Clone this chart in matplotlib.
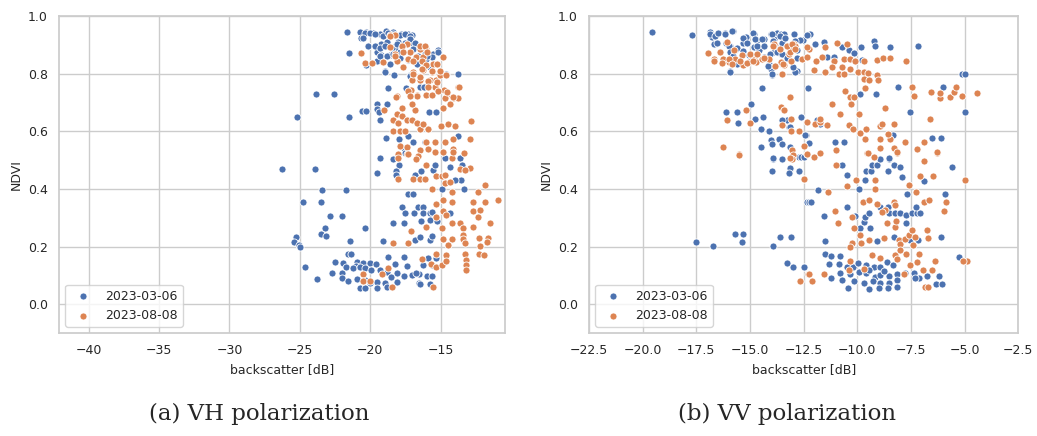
import numpy as np
import matplotlib
matplotlib.use("Agg")
import matplotlib.pyplot as plt
import seaborn as sns

# date labels of the two acquisitions
dates = ["2023-03-06", "2023-08-08"]

# VH backscatter [dB] / NDVI, 2023-03-06
vh_mar = np.array([
    (-21.64, 0.945), (-21.55, 0.872), (-20.74, 0.945), (-20.32, 0.945), (-19.80, 0.942), (-19.33, 0.939),
    (-18.90, 0.948), (-18.38, 0.945), (-17.86, 0.939), (-17.32, 0.939), (-17.08, 0.933), (-20.63, 0.924),
    (-20.15, 0.898), (-19.56, 0.898), (-19.21, 0.904), (-18.85, 0.910), (-18.38, 0.892), (-18.03, 0.910),
    (-16.96, 0.904), (-19.56, 0.875), (-19.21, 0.864), (-18.62, 0.864), (-18.26, 0.887), (-17.91, 0.875),
    (-17.08, 0.881), (-16.49, 0.898), (-16.13, 0.875), (-15.54, 0.869), (-15.19, 0.881), (-15.66, 0.858),
    (-19.56, 0.846), (-18.62, 0.835), (-17.32, 0.849), (-16.73, 0.840), (-16.02, 0.852), (-18.97, 0.808),
    (-18.33, 0.794), (-17.20, 0.794), (-20.32, 0.831), (-14.60, 0.800), (-13.80, 0.800),
    (-20.38, 0.943), (-20.03, 0.943), (-19.67, 0.937), (-19.08, 0.931), (-18.73, 0.943), (-18.37, 0.939),
    (-17.90, 0.934), (-17.54, 0.937), (-17.19, 0.931), (-20.50, 0.925), (-20.15, 0.897), (-19.67, 0.897),
    (-19.32, 0.891), (-18.96, 0.897), (-18.49, 0.891), (-18.13, 0.902), (-17.54, 0.908), (-17.19, 0.920),
    (-16.83, 0.908), (-19.32, 0.862), (-18.84, 0.862), (-18.37, 0.868), (-17.90, 0.856), (-17.31, 0.851),
    (-16.95, 0.885), (-16.60, 0.862), (-16.00, 0.862), (-15.17, 0.874), (-16.71, 0.833), (-15.76, 0.822),
    (-18.96, 0.805), (-17.19, 0.793), (-16.47, 0.753), (-16.12, 0.753),
    (-23.87, 0.729), (-22.56, 0.729), (-25.19, 0.650), (-21.52, 0.650), (-18.73, 0.750), (-17.50, 0.750),
    (-16.20, 0.754), (-19.50, 0.696), (-18.80, 0.696), (-20.60, 0.670), (-20.30, 0.670), (-19.56, 0.676),
    (-19.40, 0.667), (-19.35, 0.640), (-15.85, 0.668), (-15.33, 0.668), (-13.77, 0.585), (-18.90, 0.577),
    (-17.95, 0.575), (-17.30, 0.585), (-17.60, 0.543), (-16.96, 0.563), (-16.10, 0.563),
    (-26.28, 0.468), (-23.90, 0.468), (-19.56, 0.454), (-19.30, 0.506), (-18.40, 0.503), (-18.00, 0.483),
    (-18.15, 0.464), (-18.15, 0.449), (-17.55, 0.524), (-16.84, 0.449), (-16.42, 0.464), (-15.54, 0.466),
    (-15.43, 0.483), (-14.70, 0.506), (-14.36, 0.477), (-13.65, 0.506), (-13.53, 0.483), (-13.58, 0.431),
    (-14.00, 0.431), (-23.40, 0.395), (-21.74, 0.395), (-24.76, 0.355), (-23.50, 0.355), (-22.87, 0.307),
    (-22.04, 0.307), (-23.20, 0.264), (-23.50, 0.243), (-23.15, 0.237), (-20.40, 0.264), (-21.45, 0.221),
    (-25.30, 0.232), (-25.40, 0.217), (-25.07, 0.206), (-25.00, 0.200), (-24.65, 0.130), (-23.80, 0.088),
    (-19.10, 0.221), (-18.40, 0.283), (-17.60, 0.283), (-17.77, 0.339), (-17.55, 0.316), (-16.90, 0.316),
    (-16.60, 0.339), (-16.25, 0.339), (-16.25, 0.316), (-15.78, 0.316), (-15.60, 0.322), (-17.30, 0.382),
    (-17.00, 0.382), (-16.42, 0.289), (-15.78, 0.292), (-15.26, 0.289), (-16.84, 0.223), (-16.50, 0.235),
    (-15.78, 0.223), (-15.66, 0.238), (-14.95, 0.400), (-13.35, 0.400), (-14.36, 0.316),
    (-22.52, 0.148), (-21.93, 0.145), (-21.62, 0.175), (-21.34, 0.175), (-20.98, 0.148), (-21.03, 0.133),
    (-20.50, 0.142), (-20.04, 0.142), (-19.60, 0.140), (-18.78, 0.165), (-18.26, 0.140), (-17.62, 0.165),
    (-17.43, 0.133), (-22.75, 0.110), (-22.04, 0.110), (-21.70, 0.130), (-21.22, 0.125), (-20.74, 0.130),
    (-20.39, 0.125), (-19.92, 0.119), (-19.33, 0.119), (-18.85, 0.113), (-18.14, 0.108), (-17.62, 0.098),
    (-17.08, 0.102), (-16.54, 0.073), (-16.25, 0.136), (-15.66, 0.136), (-16.00, 0.098), (-15.66, 0.098),
    (-16.54, 0.105), (-22.04, 0.090), (-21.57, 0.082), (-20.98, 0.087), (-20.39, 0.084), (-20.04, 0.075),
    (-19.56, 0.079), (-18.97, 0.075), (-18.57, 0.094), (-18.14, 0.079), (-20.74, 0.055), (-20.39, 0.055),
    (-19.56, 0.055), (-18.85, 0.059), (-15.31, 0.162), (-15.90, 0.160), (-16.77, 0.110), (-15.76, 0.072),
    (-16.50, 0.072),
])

# VH backscatter [dB] / NDVI, 2023-08-08
vh_aug = np.array([
    (-20.70, 0.873), (-20.39, 0.838), (-19.85, 0.838), (-18.62, 0.933), (-18.26, 0.933), (-17.43, 0.904),
    (-17.79, 0.892), (-18.62, 0.892), (-17.20, 0.875), (-16.49, 0.887), (-16.02, 0.887), (-16.73, 0.858),
    (-16.25, 0.858), (-16.37, 0.846), (-18.14, 0.846), (-17.67, 0.823), (-16.96, 0.806), (-16.25, 0.812),
    (-15.66, 0.806), (-14.83, 0.858), (-15.54, 0.835), (-17.32, 0.852), (-18.26, 0.869), (-19.09, 0.840),
    (-16.02, 0.829), (-17.08, 0.780), (-16.49, 0.780), (-15.78, 0.777), (-15.31, 0.777), (-15.07, 0.794),
    (-14.60, 0.794), (-17.15, 0.742), (-16.68, 0.725), (-16.06, 0.725), (-15.59, 0.725), (-15.43, 0.754),
    (-14.79, 0.742), (-14.53, 0.731), (-14.13, 0.717), (-13.77, 0.717), (-13.77, 0.754), (-14.67, 0.717),
    (-18.61, 0.931), (-17.78, 0.897), (-18.25, 0.862), (-17.66, 0.874), (-16.47, 0.897), (-16.12, 0.897),
    (-16.00, 0.874), (-16.95, 0.845), (-16.36, 0.816), (-15.64, 0.810), (-15.29, 0.833), (-15.05, 0.810),
    (-16.95, 0.799), (-16.47, 0.788), (-15.88, 0.776), (-15.29, 0.770), (-17.31, 0.741), (-16.71, 0.724),
    (-15.88, 0.753), (-15.17, 0.741), (-14.58, 0.736), (-13.74, 0.753), (-14.10, 0.718), (-18.13, 0.724),
    (-17.19, 0.724),
    (-18.19, 0.721), (-19.02, 0.675), (-17.79, 0.682), (-16.84, 0.675), (-17.08, 0.696), (-14.83, 0.682),
    (-14.36, 0.696), (-18.14, 0.659), (-17.79, 0.655), (-18.38, 0.638), (-18.03, 0.629), (-17.43, 0.638),
    (-17.08, 0.640), (-18.38, 0.603), (-17.91, 0.603), (-17.55, 0.601), (-16.49, 0.609), (-16.68, 0.629),
    (-15.90, 0.609), (-16.25, 0.624), (-15.02, 0.617), (-14.48, 0.624), (-14.00, 0.617), (-12.83, 0.636),
    (-12.94, 0.575), (-14.13, 0.575), (-14.72, 0.563), (-15.43, 0.563), (-16.02, 0.563), (-17.91, 0.548),
    (-17.43, 0.546), (-18.03, 0.523), (-17.43, 0.520), (-16.49, 0.536), (-15.90, 0.540), (-15.43, 0.528),
    (-14.83, 0.528), (-14.17, 0.540), (-13.37, 0.525),
    (-18.07, 0.506), (-17.32, 0.521), (-16.61, 0.514), (-16.77, 0.503), (-16.02, 0.483), (-14.83, 0.529),
    (-14.20, 0.506), (-14.13, 0.529), (-15.31, 0.445), (-14.95, 0.445), (-14.72, 0.449), (-13.65, 0.468),
    (-12.94, 0.472), (-13.30, 0.466), (-18.03, 0.434), (-16.96, 0.434), (-16.49, 0.434), (-16.09, 0.434),
    (-14.72, 0.420), (-14.36, 0.425), (-15.66, 0.400), (-14.24, 0.391), (-15.31, 0.347), (-14.83, 0.362),
    (-14.24, 0.356), (-12.71, 0.356), (-11.88, 0.414), (-11.88, 0.356), (-10.93, 0.362), (-12.35, 0.391),
    (-12.75, 0.325), (-12.23, 0.327), (-15.31, 0.304), (-14.83, 0.325), (-14.60, 0.310), (-14.24, 0.281),
    (-13.65, 0.281), (-13.46, 0.264), (-12.71, 0.269), (-12.35, 0.304), (-11.52, 0.283), (-17.15, 0.255),
    (-17.32, 0.214), (-18.38, 0.214), (-16.02, 0.267), (-14.91, 0.265), (-14.24, 0.225), (-13.46, 0.240),
    (-13.42, 0.225), (-13.30, 0.214), (-14.48, 0.206), (-14.83, 0.225), (-12.28, 0.231), (-11.64, 0.231),
    (-11.71, 0.217), (-12.23, 0.202), (-14.60, 0.171), (-15.31, 0.173), (-16.30, 0.156), (-15.71, 0.139),
    (-15.31, 0.128), (-14.95, 0.136), (-14.65, 0.151), (-13.30, 0.173), (-13.18, 0.154), (-13.23, 0.136),
    (-13.23, 0.119), (-12.28, 0.173), (-11.95, 0.171), (-20.50, 0.105), (-20.50, 0.082), (-20.04, 0.082),
    (-19.16, 0.105), (-18.74, 0.125), (-18.45, 0.061), (-15.54, 0.061),
])

# VV backscatter [dB] / NDVI, 2023-03-06
vv_mar = np.array([
    (-19.56, 0.945), (-17.70, 0.933), (-16.85, 0.945), (-16.53, 0.939), (-16.18, 0.942), (-15.79, 0.948),
    (-16.77, 0.927), (-16.53, 0.906), (-16.14, 0.906), (-15.91, 0.898), (-15.68, 0.881), (-15.60, 0.840),
    (-15.91, 0.809), (-15.32, 0.906), (-15.21, 0.929), (-14.82, 0.939), (-14.67, 0.916), (-14.35, 0.921),
    (-14.82, 0.892), (-14.59, 0.881), (-14.35, 0.858), (-14.04, 0.939), (-13.76, 0.942), (-13.57, 0.939),
    (-13.89, 0.921), (-13.50, 0.906), (-13.89, 0.875), (-13.57, 0.869), (-13.96, 0.794), (-14.04, 0.817),
    (-12.95, 0.939), (-12.80, 0.881), (-12.52, 0.916), (-12.83, 0.809), (-12.25, 0.935), (-14.12, 0.835),
    (-15.05, 0.864), (-12.97, 0.939), (-12.19, 0.939), (-12.34, 0.933), (-13.43, 0.939), (-13.28, 0.898),
    (-13.59, 0.875), (-13.51, 0.835), (-12.89, 0.806), (-12.66, 0.918), (-11.96, 0.904), (-11.41, 0.858),
    (-11.10, 0.858), (-11.57, 0.910), (-10.71, 0.892), (-10.40, 0.881), (-10.17, 0.872), (-9.83, 0.892),
    (-9.78, 0.849), (-9.21, 0.913), (-9.16, 0.896), (-8.49, 0.892), (-7.17, 0.896), (-5.12, 0.800),
    (-5.00, 0.800),
    (-16.86, 0.937), (-16.63, 0.931), (-16.47, 0.943), (-16.16, 0.937), (-15.85, 0.948), (-16.70, 0.902),
    (-16.55, 0.908), (-16.00, 0.897), (-15.93, 0.874), (-15.61, 0.891), (-15.77, 0.862), (-15.31, 0.925),
    (-15.15, 0.908), (-14.84, 0.943), (-14.76, 0.920), (-14.68, 0.897), (-14.45, 0.920), (-14.37, 0.897),
    (-13.98, 0.937), (-13.91, 0.914), (-13.83, 0.897), (-13.60, 0.931), (-13.36, 0.925), (-14.06, 0.868),
    (-13.75, 0.874), (-13.52, 0.868), (-13.28, 0.856), (-13.13, 0.874), (-12.90, 0.914), (-12.82, 0.856),
    (-12.98, 0.822), (-14.14, 0.828), (-13.98, 0.799), (-15.93, 0.805), (-15.61, 0.833), (-14.91, 0.862),
    (-15.31, 0.879),
    (-14.45, 0.751), (-14.95, 0.696), (-16.11, 0.668), (-15.60, 0.669), (-15.57, 0.629), (-14.77, 0.644),
    (-14.38, 0.650), (-14.51, 0.609), (-14.12, 0.603), (-12.64, 0.650), (-13.26, 0.638), (-13.19, 0.615),
    (-14.04, 0.571), (-13.65, 0.575), (-13.96, 0.557), (-13.50, 0.557), (-13.14, 0.546), (-12.41, 0.586),
    (-13.95, 0.505), (-13.50, 0.505), (-14.48, 0.546), (-12.30, 0.751), (-9.86, 0.731), (-9.13, 0.731),
    (-8.11, 0.754), (-6.01, 0.754), (-7.53, 0.667), (-4.97, 0.667), (-12.62, 0.650), (-13.51, 0.640),
    (-13.12, 0.615), (-11.88, 0.638), (-11.72, 0.624), (-12.45, 0.586), (-12.24, 0.561), (-11.02, 0.563),
    (-10.64, 0.563), (-8.35, 0.586), (-6.52, 0.577), (-6.10, 0.577), (-8.93, 0.505), (-8.54, 0.505),
    (-13.12, 0.546),
    (-17.50, 0.215), (-16.72, 0.202), (-15.68, 0.243), (-15.32, 0.243), (-15.37, 0.215), (-13.92, 0.202),
    (-13.61, 0.235), (-13.08, 0.235), (-13.26, 0.145), (-12.98, 0.131), (-12.48, 0.131), (-13.95, 0.506),
    (-13.50, 0.503), (-12.72, 0.512), (-12.64, 0.512), (-12.48, 0.512), (-13.96, 0.464), (-13.19, 0.454),
    (-13.16, 0.469), (-12.72, 0.464), (-12.33, 0.356), (-13.15, 0.472), (-13.20, 0.454), (-12.73, 0.464),
    (-13.51, 0.504), (-10.71, 0.483), (-10.48, 0.449), (-9.94, 0.399), (-9.63, 0.431), (-9.58, 0.464),
    (-9.36, 0.464), (-9.32, 0.483), (-9.08, 0.483), (-8.93, 0.503), (-8.54, 0.506), (-8.31, 0.483),
    (-8.03, 0.477), (-7.92, 0.440), (-8.59, 0.464), (-6.88, 0.428), (-5.59, 0.475), (-7.69, 0.382),
    (-5.90, 0.382), (-11.83, 0.397), (-12.27, 0.354), (-12.16, 0.354), (-11.57, 0.308), (-10.48, 0.339),
    (-10.09, 0.308), (-9.70, 0.287), (-9.63, 0.304), (-9.47, 0.318), (-9.86, 0.264), (-9.39, 0.264),
    (-8.93, 0.339), (-8.59, 0.339), (-8.54, 0.316), (-8.23, 0.316), (-8.00, 0.316), (-7.72, 0.310),
    (-7.45, 0.316), (-7.22, 0.316), (-7.06, 0.316), (-7.25, 0.339), (-7.72, 0.283), (-13.59, 0.232),
    (-13.09, 0.232), (-11.49, 0.221), (-9.08, 0.221), (-8.31, 0.232), (-7.56, 0.223), (-7.19, 0.223),
    (-6.10, 0.235), (-5.25, 0.163),
    (-11.49, 0.175), (-11.21, 0.168), (-10.79, 0.168), (-13.28, 0.145), (-13.00, 0.131), (-12.50, 0.131),
    (-11.34, 0.140), (-10.87, 0.140), (-10.48, 0.128), (-10.20, 0.131), (-9.98, 0.145), (-9.58, 0.136),
    (-9.24, 0.128), (-8.93, 0.128), (-8.62, 0.148), (-8.34, 0.136), (-10.79, 0.110), (-10.36, 0.105),
    (-9.94, 0.113), (-9.58, 0.110), (-9.16, 0.096), (-8.93, 0.102), (-8.54, 0.098), (-8.15, 0.105),
    (-7.76, 0.108), (-7.38, 0.108), (-7.14, 0.092), (-6.75, 0.098), (-6.21, 0.098), (-11.21, 0.090),
    (-10.71, 0.084), (-10.17, 0.082), (-9.70, 0.075), (-9.27, 0.082), (-8.93, 0.075), (-8.54, 0.073),
    (-8.15, 0.084), (-7.30, 0.090), (-6.32, 0.071), (-6.06, 0.071), (-10.43, 0.058), (-9.47, 0.052),
    (-9.01, 0.055), (-8.59, 0.055), (-8.15, 0.059), (-9.47, 0.119), (-8.74, 0.117),
])

# VV backscatter [dB] / NDVI, 2023-08-08
vv_aug = np.array([
    (-16.95, 0.873), (-16.69, 0.852), (-16.38, 0.877), (-16.27, 0.852), (-16.00, 0.840), (-15.68, 0.852),
    (-15.32, 0.829), (-15.05, 0.840), (-14.82, 0.852), (-14.74, 0.840), (-14.43, 0.852), (-14.12, 0.852),
    (-13.89, 0.904), (-13.57, 0.840), (-13.42, 0.829), (-13.50, 0.800), (-13.11, 0.846), (-13.19, 0.869),
    (-13.11, 0.887), (-12.95, 0.904), (-12.56, 0.852), (-12.25, 0.887), (-12.33, 0.858), (-16.07, 0.910),
    (-15.76, 0.881), (-15.37, 0.864), (-14.98, 0.869), (-13.12, 0.875), (-12.89, 0.898), (-12.34, 0.892),
    (-11.91, 0.846), (-11.65, 0.858), (-11.49, 0.892), (-10.95, 0.906), (-10.48, 0.904), (-11.10, 0.846),
    (-10.64, 0.852), (-10.33, 0.852), (-10.09, 0.846), (-9.70, 0.846), (-9.08, 0.849), (-8.82, 0.855),
    (-8.46, 0.855), (-7.72, 0.846), (-12.03, 0.812), (-11.49, 0.806), (-11.18, 0.823), (-10.87, 0.800),
    (-10.64, 0.800), (-10.33, 0.817), (-9.98, 0.806), (-9.70, 0.806), (-9.52, 0.803), (-9.70, 0.783),
    (-9.47, 0.777), (-9.08, 0.794), (-9.05, 0.780), (-10.71, 0.823),
    (-16.94, 0.871), (-16.70, 0.845), (-16.39, 0.877), (-16.00, 0.851), (-16.31, 0.839), (-15.85, 0.833),
    (-15.46, 0.845), (-15.15, 0.839), (-14.84, 0.845), (-14.68, 0.868), (-14.37, 0.856), (-13.91, 0.897),
    (-13.60, 0.885), (-13.28, 0.897), (-13.05, 0.902), (-12.90, 0.885), (-13.44, 0.833), (-13.83, 0.828),
    (-13.52, 0.799),
    (-13.14, 0.721), (-13.57, 0.684), (-13.42, 0.675), (-16.07, 0.640), (-15.18, 0.675), (-15.01, 0.629),
    (-13.11, 0.644), (-12.72, 0.603), (-13.53, 0.621), (-13.11, 0.601), (-12.36, 0.632), (-16.25, 0.546),
    (-15.52, 0.520), (-13.06, 0.536), (-12.98, 0.517), (-12.36, 0.520), (-12.48, 0.551), (-10.56, 0.740),
    (-10.33, 0.719), (-10.14, 0.719), (-10.30, 0.696), (-9.63, 0.751), (-11.18, 0.696), (-10.82, 0.659),
    (-9.94, 0.659), (-13.12, 0.721), (-13.43, 0.675), (-8.73, 0.682), (-7.45, 0.754), (-7.38, 0.723),
    (-6.55, 0.736), (-6.16, 0.716), (-6.13, 0.733), (-5.70, 0.719), (-5.48, 0.736), (-5.40, 0.754),
    (-5.12, 0.723), (-4.43, 0.733), (-6.60, 0.644), (-11.96, 0.627), (-11.75, 0.632), (-11.41, 0.621),
    (-11.72, 0.642), (-10.40, 0.621), (-10.20, 0.609), (-9.86, 0.594), (-9.58, 0.609), (-8.96, 0.617),
    (-8.85, 0.627), (-8.31, 0.624), (-9.63, 0.575), (-8.93, 0.575), (-8.46, 0.575), (-8.59, 0.592),
    (-7.76, 0.563), (-7.22, 0.540), (-6.91, 0.563), (-6.29, 0.525), (-10.98, 0.534), (-9.55, 0.525),
    (-8.93, 0.543), (-8.31, 0.543), (-8.15, 0.525),
    (-15.49, 0.519), (-13.03, 0.503), (-12.48, 0.434), (-12.30, 0.105), (-12.67, 0.082), (-12.36, 0.521),
    (-13.12, 0.506), (-12.34, 0.521), (-12.03, 0.512), (-11.75, 0.524), (-10.98, 0.483), (-9.52, 0.524),
    (-9.24, 0.512), (-8.15, 0.529), (-6.91, 0.498), (-6.29, 0.529), (-6.48, 0.445), (-7.07, 0.445),
    (-7.61, 0.414), (-7.25, 0.391), (-10.48, 0.412), (-10.05, 0.431), (-12.50, 0.434), (-11.38, 0.391),
    (-9.19, 0.431), (-9.19, 0.400), (-4.97, 0.431), (-9.74, 0.356), (-9.47, 0.362), (-9.08, 0.348),
    (-8.70, 0.327), (-8.85, 0.321), (-8.31, 0.356), (-8.23, 0.345), (-11.02, 0.325), (-10.92, 0.283),
    (-10.25, 0.304), (-10.17, 0.264), (-9.89, 0.240), (-10.25, 0.214), (-10.33, 0.200), (-9.81, 0.214),
    (-9.47, 0.223), (-8.77, 0.229), (-8.62, 0.281), (-8.23, 0.267), (-8.18, 0.290), (-8.07, 0.223),
    (-8.00, 0.209), (-7.76, 0.225), (-7.61, 0.240), (-7.45, 0.258), (-7.30, 0.232), (-7.41, 0.206),
    (-7.22, 0.148), (-7.14, 0.175), (-7.72, 0.173), (-8.23, 0.171), (-8.15, 0.156), (-8.03, 0.188),
    (-8.93, 0.160), (-9.32, 0.171), (-10.36, 0.151), (-10.40, 0.119), (-9.70, 0.121), (-11.54, 0.105),
    (-12.27, 0.105), (-12.66, 0.082), (-12.11, 0.082), (-7.53, 0.136), (-7.84, 0.105), (-6.94, 0.119),
    (-6.52, 0.119), (-6.37, 0.151), (-6.83, 0.059), (-6.72, 0.061), (-6.75, 0.258), (-6.70, 0.229),
    (-6.91, 0.356), (-6.68, 0.362), (-5.85, 0.356), (-5.98, 0.325), (-4.89, 0.151), (-5.08, 0.151),
])

sns.set_theme(style="whitegrid")
plt.rcParams["font.family"] = ["DejaVu Sans"]
colors = sns.color_palette("deep")[:2]

fig = plt.figure(figsize=(10.37, 4.36), dpi=100)
ax1 = fig.add_axes([0.0569, 0.236, 0.430, 0.727])
ax2 = fig.add_axes([0.568, 0.236, 0.414, 0.727])

panels = [(ax1, vh_mar, vh_aug, (-42.1, -10.45)),
          (ax2, vv_mar, vv_aug, (-22.5, -2.5))]

for ax, d_mar, d_aug, xl in panels:
    for d, c, lab in zip([d_mar, d_aug], colors, dates):
        ax.scatter(d[:, 0], d[:, 1], s=26, color=c, edgecolor="white",
                   linewidth=0.6, label=lab, zorder=3)
    ax.set_xlim(xl)
    ax.set_ylim(-0.1, 1.0)
    ax.set_yticks([0.0, 0.2, 0.4, 0.6, 0.8, 1.0])
    ax.set_xlabel("backscatter [dB]", fontsize=9)
    ax.set_ylabel("NDVI", fontsize=9)
    ax.tick_params(labelsize=9, pad=2)
    ax.legend(loc="lower left", fontsize=9)

ax2.set_xticks(np.arange(-22.5, -2.4, 2.5))

fig.text(0.25, 0.05, "(a) VH polarization", family="DejaVu Serif",
         fontsize=16.5, ha="center", va="center")
fig.text(0.759, 0.05, "(b) VV polarization", family="DejaVu Serif",
         fontsize=16.5, ha="center", va="center")

fig.savefig("out.png", dpi=100)
